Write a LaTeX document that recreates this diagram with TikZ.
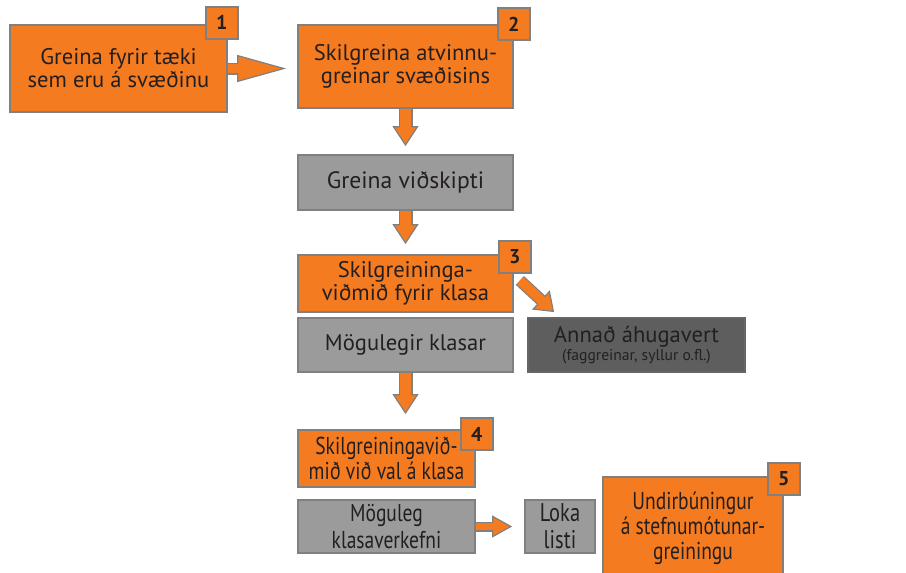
\documentclass[tikz,border=0pt]{standalone}
\usepackage{fontspec}
\setmainfont{PT Sans}
\newfontfamily\condfont[FakeStretch=0.8]{PT Sans}
\usetikzlibrary{arrows.meta}
\definecolor{orng}{HTML}{F47B20}
\definecolor{boxline}{HTML}{808080}
\definecolor{grayb}{HTML}{9B9B9B}
\definecolor{darkb}{HTML}{5E5E5E}
\definecolor{txt}{HTML}{231F20}
\tikzset{
  box/.style={draw=boxline, line width=0.9pt, align=center, inner sep=0pt, text=txt,
    font=\fontsize{11.3}{11.5}\selectfont},
  lower/.style={font=\condfont\fontsize{12.2}{10.8}\selectfont},
  obox/.style={box, fill=orng},
  gbox/.style={box, fill=grayb},
  dbox/.style={box, fill=darkb, draw=boxline!80!black},
  badge/.style={draw=boxline, line width=0.9pt, fill=orng, minimum size=16pt, inner sep=0pt,
    text=txt, font=\fontsize{10}{12}\bfseries},
  flow/.style n args={3}{draw=boxline, line width=#1,
    -{Triangle[length=#2, width=#3, line width=0.6pt, fill=orng]},
    postaction={draw=orng, line width=#1-1.2pt, -, shorten >=#2-0.8pt}}
}
\begin{document}
\begin{tikzpicture}[x=0.5pt,y=-0.5pt]
\useasboundingbox[fill=white] (0,0) rectangle (906,573);
% boxes
\node[obox, minimum width=108.5pt, minimum height=43.5pt] (b1) at (118.5,68.5) {Greina fyrir tæki\\sem eru á svæðinu};
\node[obox, minimum width=107.5pt, minimum height=41.5pt] (b2) at (405.5,66.5) {Skilgreina atvinnu-\\greinar svæðisins};
\node[gbox, minimum width=107.5pt, minimum height=27.5pt, font=\fontsize{11.8}{12}\selectfont] (bv) at (405.5,182.5) {Greina viðskipti};
\node[obox, minimum width=107.5pt, minimum height=28.5pt] (b3) at (405.5,283.5) {Skilgreininga-\\viðmið fyrir klasa};
\node[gbox, minimum width=107.5pt, minimum height=27pt] (bk) at (405.5,345) {Mögulegir klasar};
\node[dbox, minimum width=108.5pt, minimum height=27pt] (ba) at (636.5,345) {Annað áhugavert\\[-2.5pt]{\fontsize{7.8}{8}\selectfont(faggreinar, syllur o.fl.)}};
\node[obox, lower, minimum width=88.5pt, minimum height=28.5pt] (b4) at (386.5,458.5) {Skilgreiningavið-\\mið við val á klasa};
\node[gbox, lower, minimum width=88.5pt, minimum height=26.5pt, font=\condfont\fontsize{12.2}{13.5}\selectfont] (bm) at (386.5,526.5) {Möguleg\\klasaverkefni};
\node[gbox, minimum width=35pt, minimum height=26.5pt, font=\condfont\fontsize{12.8}{13.5}\selectfont] (bl) at (560,526.5) {Loka\\listi};
\node[obox, minimum width=90pt, minimum height=51pt, font=\condfont\fontsize{12.2}{12.5}\selectfont] (b5) at (693,528) {Undirbúningur\\á stefnumótunar-\\greiningu};
% numbers
\node[badge] (n1) at ([xshift=-3pt,yshift=0.75pt]b1.north east) {1};
\node[badge] (n2) at (b2.north east) {2};
\node[badge] (n3) at ([xshift=0.5pt,yshift=-1.25pt]b3.north east) {3};
\node[badge] (n4) at ([xshift=0.5pt,yshift=-2.5pt]b4.north east) {4};
\node[badge] (n5) at ([yshift=-1.25pt]b5.north east) {5};
% arrows
\draw[flow={6pt}{24.5pt}{13.5pt}] (b1.east) -- ([xshift=-5.5pt]b1.east -| b2.west);
\draw[flow={7pt}{10pt}{13pt}] (b2.south) -- ([yshift=4pt]bv.north);
\draw[flow={7pt}{10pt}{13pt}] (bv.south) -- ([yshift=5pt]b3.north);
\draw[flow={7pt}{10pt}{13pt}] (bk.south) -- ([yshift=7.5pt]bk.south |- b4.north);
\draw[flow={6pt}{9pt}{13pt}] ([xshift=3pt,yshift=1.5pt]b3.east) -- ([xshift=13.5pt,yshift=2.5pt]ba.north west);
\draw[flow={5pt}{10pt}{11pt}] (bm.east) -- ([xshift=-6pt]bl.west);
\end{tikzpicture}
\end{document}
